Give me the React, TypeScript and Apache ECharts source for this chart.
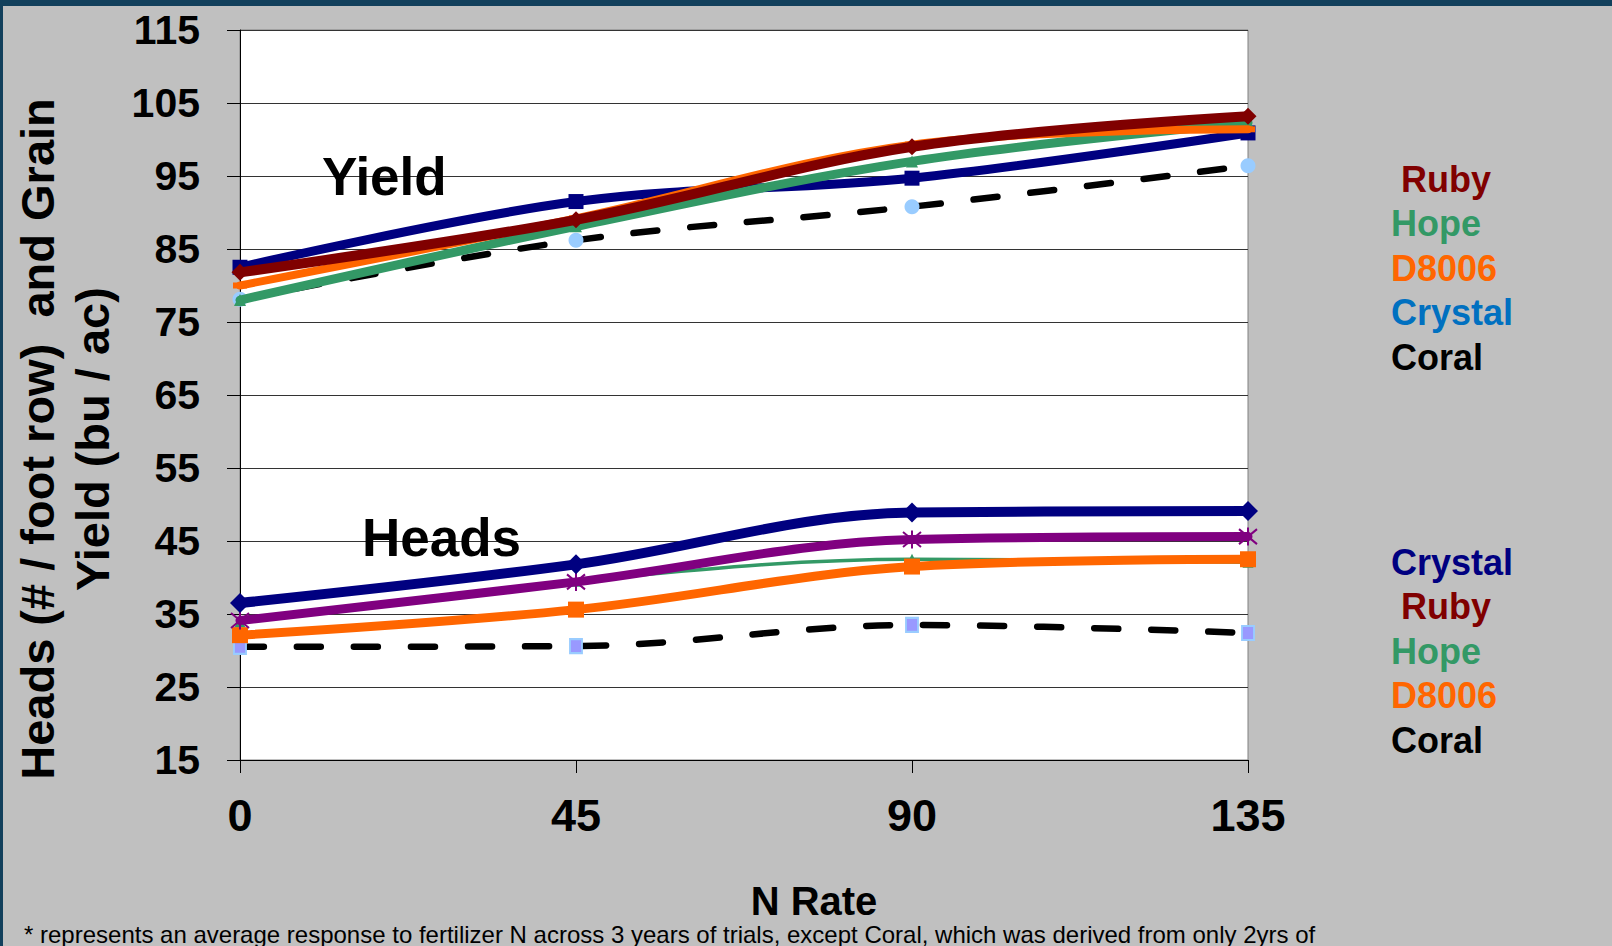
import React, { useEffect, useRef } from "react";
import * as echarts from "echarts";

// N rates (lb/ac) on the x axis
const N_RATES = [0, 45, 90, 135];
const Y_MIN = 15;
const Y_MAX = 115;
const Y_STEP = 10;

// Grain yield (bu / ac)
const yieldRuby = [81.8, 89.0, 99.0, 103.2];
const yieldHope = [78.0, 88.1, 97.0, 102.3];
const yieldD8006 = [80.0, 89.2, 99.3, 101.4];
const yieldCrystal = [82.5, 91.5, 94.7, 100.9];
const yieldCoral = [78.1, 86.2, 90.8, 96.4];

// Heads (# / foot row)
const headsCrystal = [36.5, 41.8, 48.9, 49.1];
const headsRuby = [34.1, 39.4, 45.2, 45.6];
const headsHope = [33.9, 39.5, 42.5, 42.1];
const headsD8006 = [32.1, 35.6, 41.5, 42.5];
const headsCoral = [30.5, 30.6, 33.5, 32.4];

const yieldLegend = [
  { text: " Ruby", color: "#800000" },
  { text: "Hope", color: "#339966" },
  { text: "D8006", color: "#FF6600" },
  { text: "Crystal", color: "#0070C0" },
  { text: "Coral", color: "#000000" },
];
const headsLegend = [
  { text: "Crystal", color: "#000080" },
  { text: " Ruby", color: "#800000" },
  { text: "Hope", color: "#339966" },
  { text: "D8006", color: "#FF6600" },
  { text: "Coral", color: "#000000" },
];

const FOOTNOTE =
  "* represents an average response to fertilizer N across 3 years of trials, except Coral, which was derived from only 2yrs of";

const FONT = '"Liberation Sans", Arial, sans-serif';
const ASTERISK = "path://M0,0L20,20M20,0L0,20M10,-2L10,22";

function pairs(values: number[]) {
  return N_RATES.map((x, i) => [x, values[i]]);
}

function line(
  name: string,
  values: number[],
  color: string,
  width: number,
  symbol: string,
  symbolSize: number | number[],
  z: number,
  extra: any = {}
) {
  return {
    type: "line",
    name,
    data: pairs(values),
    smooth: 0.35,
    clip: false,
    z,
    symbol,
    symbolSize,
    showSymbol: true,
    lineStyle: { color, width, cap: "round", join: "round" },
    itemStyle: { color },
    emphasis: { disabled: true },
    ...extra,
  };
}

const dashed = { color: "#000000", width: 6.5, type: [24, 33], cap: "round" };

export default function App() {
  const ref = useRef<HTMLDivElement>(null);

  useEffect(() => {
    document.body.style.margin = "0";
    const chart = echarts.init(ref.current!, null, { renderer: "svg" });

    const legendText = (items: { text: string; color: string }[], y0: number) =>
      items.map((it, i) => ({
        type: "text",
        x: 1391,
        y: y0 + i * 44.5,
        z: 100,
        style: {
          text: it.text,
          fill: it.color,
          font: `bold 36px ${FONT}`,
          align: "left",
          verticalAlign: "middle",
        },
      }));

    chart.setOption({
      animation: false,
      backgroundColor: "#C0C0C0",
      grid: {
        left: 240,
        right: 364,
        top: 30,
        bottom: 186,
        show: true,
        backgroundColor: "#FFFFFF",
        borderColor: "#808080",
        borderWidth: 1,
      },
      xAxis: {
        type: "value",
        min: 0,
        max: 135,
        interval: 45,
        axisLine: { show: true, lineStyle: { color: "#000", width: 1 } },
        axisTick: { show: true, length: 13, inside: false, lineStyle: { color: "#000" } },
        splitLine: { show: false },
        axisLabel: {
          color: "#000",
          fontFamily: FONT,
          fontWeight: "bold",
          fontSize: 45,
          margin: 33,
        },
      },
      yAxis: {
        type: "value",
        min: Y_MIN,
        max: Y_MAX,
        interval: Y_STEP,
        axisLine: { show: true, lineStyle: { color: "#000", width: 1 } },
        axisTick: { show: true, length: 13, inside: false, lineStyle: { color: "#000" } },
        splitLine: { show: true, lineStyle: { color: "#333", width: 1 } },
        axisLabel: {
          color: "#000",
          fontFamily: FONT,
          fontWeight: "bold",
          fontSize: 41,
          margin: 40,
        },
      },
      series: [
        // Grain yield
        line("Coral yield", yieldCoral, "#99CCFF", 6.5, "circle", 15, 2, {
          lineStyle: dashed,
          itemStyle: { color: "#99CCFF" },
        }),
        line("Crystal yield", yieldCrystal, "#000080", 9, "rect", 15, 3),
        line("Hope yield", yieldHope, "#339966", 9, "triangle", 12, 4),
        line("D8006 yield", yieldD8006, "#FF6600", 8, "rect", [14, 6], 5),
        line("Ruby yield", yieldRuby, "#800000", 10, "diamond", 17, 6),
        // Heads
        line("Coral heads", headsCoral, "#9999FF", 6.5, "rect", [12, 14], 2, {
          lineStyle: dashed,
          itemStyle: { color: "#9999FF", borderColor: "#99CCFF", borderWidth: 2 },
        }),
        line("Hope heads", headsHope, "#339966", 3.5, "triangle", 11, 3),
        line("D8006 heads", headsD8006, "#FF6600", 9, "rect", 16, 4),
        line("Ruby heads", headsRuby, "#800080", 9, ASTERISK, 18, 5, {
          itemStyle: { color: "transparent", borderColor: "#800080", borderWidth: 2 },
        }),
        line("Crystal heads", headsCrystal, "#000080", 10, "diamond", 20, 6),
      ],
      graphic: [
        { type: "rect", z: -1, shape: { x: 0, y: 0, width: 1612, height: 6 }, style: { fill: "#12405C" } },
        { type: "rect", z: -1, shape: { x: 0, y: 0, width: 3, height: 946 }, style: { fill: "#12405C" } },
        {
          type: "text",
          x: 65,
          y: 439,
          rotation: Math.PI / 2,
          z: 100,
          style: {
            text: "Heads (# / foot row)  and Grain\nYield (bu / ac)",
            fill: "#000",
            font: `bold 47px ${FONT}`,
            align: "center",
            verticalAlign: "middle",
            lineHeight: 55,
          },
        },
        {
          type: "text",
          x: 322,
          y: 176,
          z: 100,
          style: { text: "Yield", fill: "#000", font: `bold 53px ${FONT}`, align: "left", verticalAlign: "middle" },
        },
        {
          type: "text",
          x: 362,
          y: 537,
          z: 100,
          style: { text: "Heads", fill: "#000", font: `bold 53px ${FONT}`, align: "left", verticalAlign: "middle" },
        },
        {
          type: "text",
          x: 814,
          y: 901,
          z: 100,
          style: { text: "N Rate", fill: "#000", font: `bold 40px ${FONT}`, align: "center", verticalAlign: "middle" },
        },
        {
          type: "text",
          x: 24,
          y: 934,
          z: 100,
          style: { text: FOOTNOTE, fill: "#000", font: `24px ${FONT}`, align: "left", verticalAlign: "middle" },
        },
        ...legendText(yieldLegend, 179),
        ...legendText(headsLegend, 562),
      ],
    });

    return () => chart.dispose();
  }, []);

  return <div ref={ref} style={{ width: 1612, height: 946 }} />;
}
